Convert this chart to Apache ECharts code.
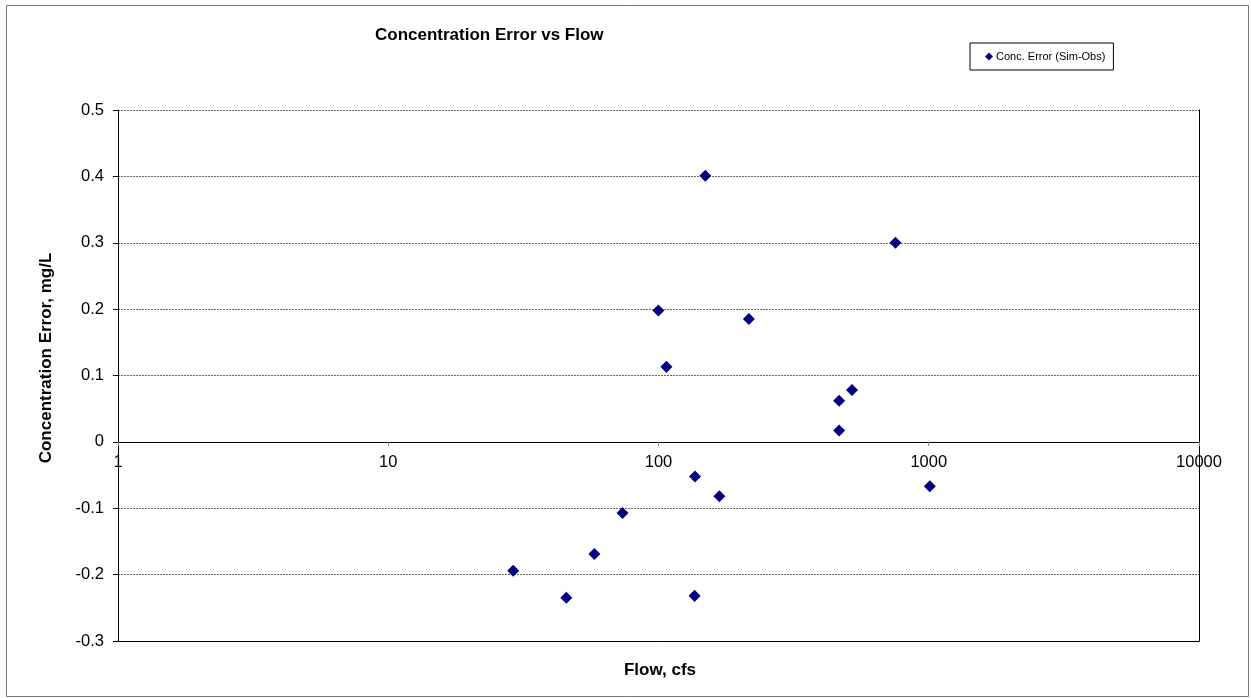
<!DOCTYPE html>
<html>
<head>
<meta charset="utf-8">
<script src="https://cdn.jsdelivr.net/npm/echarts@6/dist/echarts.min.js"></script>
<style>html,body{margin:0;padding:0;background:#fff;}#c{width:1251px;height:698px;}</style>
</head>
<body>
<div id="c"></div>
<script>
var flowCfs = [29, 45.6, 57.9, 73.6, 99.9, 107, 136.5, 136, 168, 149, 216, 753, 466, 466, 520, 1009];
var concError = [-0.194, -0.235, -0.169, -0.107, 0.198, 0.113, -0.052, -0.232, -0.082, 0.401, 0.185, 0.300, 0.062, 0.017, 0.078, -0.067];
var seriesName = 'Conc. Error (Sim-Obs)';
var yTicks = { min: -0.3, max: 0.5, step: 0.1 };
var xTicks = { min: 1, max: 10000 };

var points = flowCfs.map(function (f, i) { return [f, concError[i]]; });
var font = 'Arial, "Liberation Sans", sans-serif';
var gridTop = 110, gridBottom = 57, H = 698;
var plotH = H - gridTop - gridBottom;
// distance of y=0 above the bottom edge of the plot
var zeroOffset = plotH * (0 - yTicks.min) / (yTicks.max - yTicks.min);

var chart = echarts.init(document.getElementById('c'), null, { renderer: 'canvas' });
chart.setOption({
  animation: false,
  backgroundColor: '#fff',
  title: {
    text: 'Concentration Error vs Flow',
    left: 370, top: 22,
    textStyle: { fontFamily: font, fontSize: 17, fontWeight: 'bold', color: '#000' }
  },
  legend: {
    left: 970, top: 43,
    orient: 'horizontal',
    borderColor: '#000', borderWidth: 1,
    padding: [8, 8, 8, 15],
    itemWidth: 8, itemHeight: 8, itemGap: 4,
    icon: 'diamond',
    itemStyle: { color: '#000080', opacity: 1 },
    textStyle: { fontFamily: font, fontSize: 11, color: '#000', padding: [0, 0, 0, -2] },
    data: [seriesName]
  },
  grid: { left: 118, right: 52, top: gridTop, bottom: gridBottom, show: false },
  xAxis: [{
    type: 'log', logBase: 10, min: xTicks.min, max: xTicks.max,
    position: 'bottom', offset: -zeroOffset,
    axisLine: { onZero: false, lineStyle: { color: '#000', width: 1 } },
    axisTick: { show: true, length: 4, inside: false, lineStyle: { color: '#888' } },
    minorTick: { show: false },
    axisLabel: { fontFamily: font, fontSize: 16.5, color: '#000', margin: 12, showMinLabel: true, showMaxLabel: true,
      formatter: function (v) { return String(Math.round(v)); } },
    splitLine: { show: false }
  }, {
    type: 'log', logBase: 10, min: xTicks.min, max: xTicks.max, position: 'bottom',
    axisLine: { onZero: false, lineStyle: { color: '#000', width: 1 } },
    axisTick: { show: false }, axisLabel: { show: false }, splitLine: { show: false }
  }],
  yAxis: [{
    type: 'value', min: yTicks.min, max: yTicks.max, interval: yTicks.step,
    axisLine: { show: true, onZero: false, lineStyle: { color: '#000', width: 1 } },
    axisTick: { show: true, length: 5, lineStyle: { color: '#000' } },
    axisLabel: { fontFamily: font, fontSize: 16.5, color: '#000', margin: 14,
      formatter: function (v) { return String(Math.round(v * 10) / 10); } },
    splitLine: { show: true, lineStyle: { color: '#666', width: 1, type: [2, 1] } }
  }, {
    type: 'value', min: yTicks.min, max: yTicks.max, position: 'right',
    axisLine: { show: true, onZero: false, lineStyle: { color: '#000', width: 1 } },
    axisTick: { show: false }, axisLabel: { show: false }, splitLine: { show: false }
  }],
  graphic: [
    { type: 'rect', shape: { x: 6.5, y: 5.5, width: 1242, height: 691 }, style: { fill: 'none', stroke: '#777', lineWidth: 1 }, silent: true, z: -1 },
    { type: 'text', x: 660, y: 670, style: { text: 'Flow, cfs', font: 'bold 17px ' + font, fill: '#000', textAlign: 'center', textVerticalAlign: 'middle' } },
    { type: 'text', x: 46, y: 358, rotation: Math.PI / 2, style: { text: 'Concentration Error, mg/L', font: 'bold 17px ' + font, fill: '#000', textAlign: 'center', textVerticalAlign: 'middle' } }
  ],
  series: [{
    name: seriesName,
    type: 'scatter',
    xAxisIndex: 0, yAxisIndex: 0,
    symbol: 'rect', symbolRotate: 45, symbolSize: 8.5,
    itemStyle: { color: '#000080', opacity: 1 },
    data: points
  }]
});
</script>
</body>
</html>
